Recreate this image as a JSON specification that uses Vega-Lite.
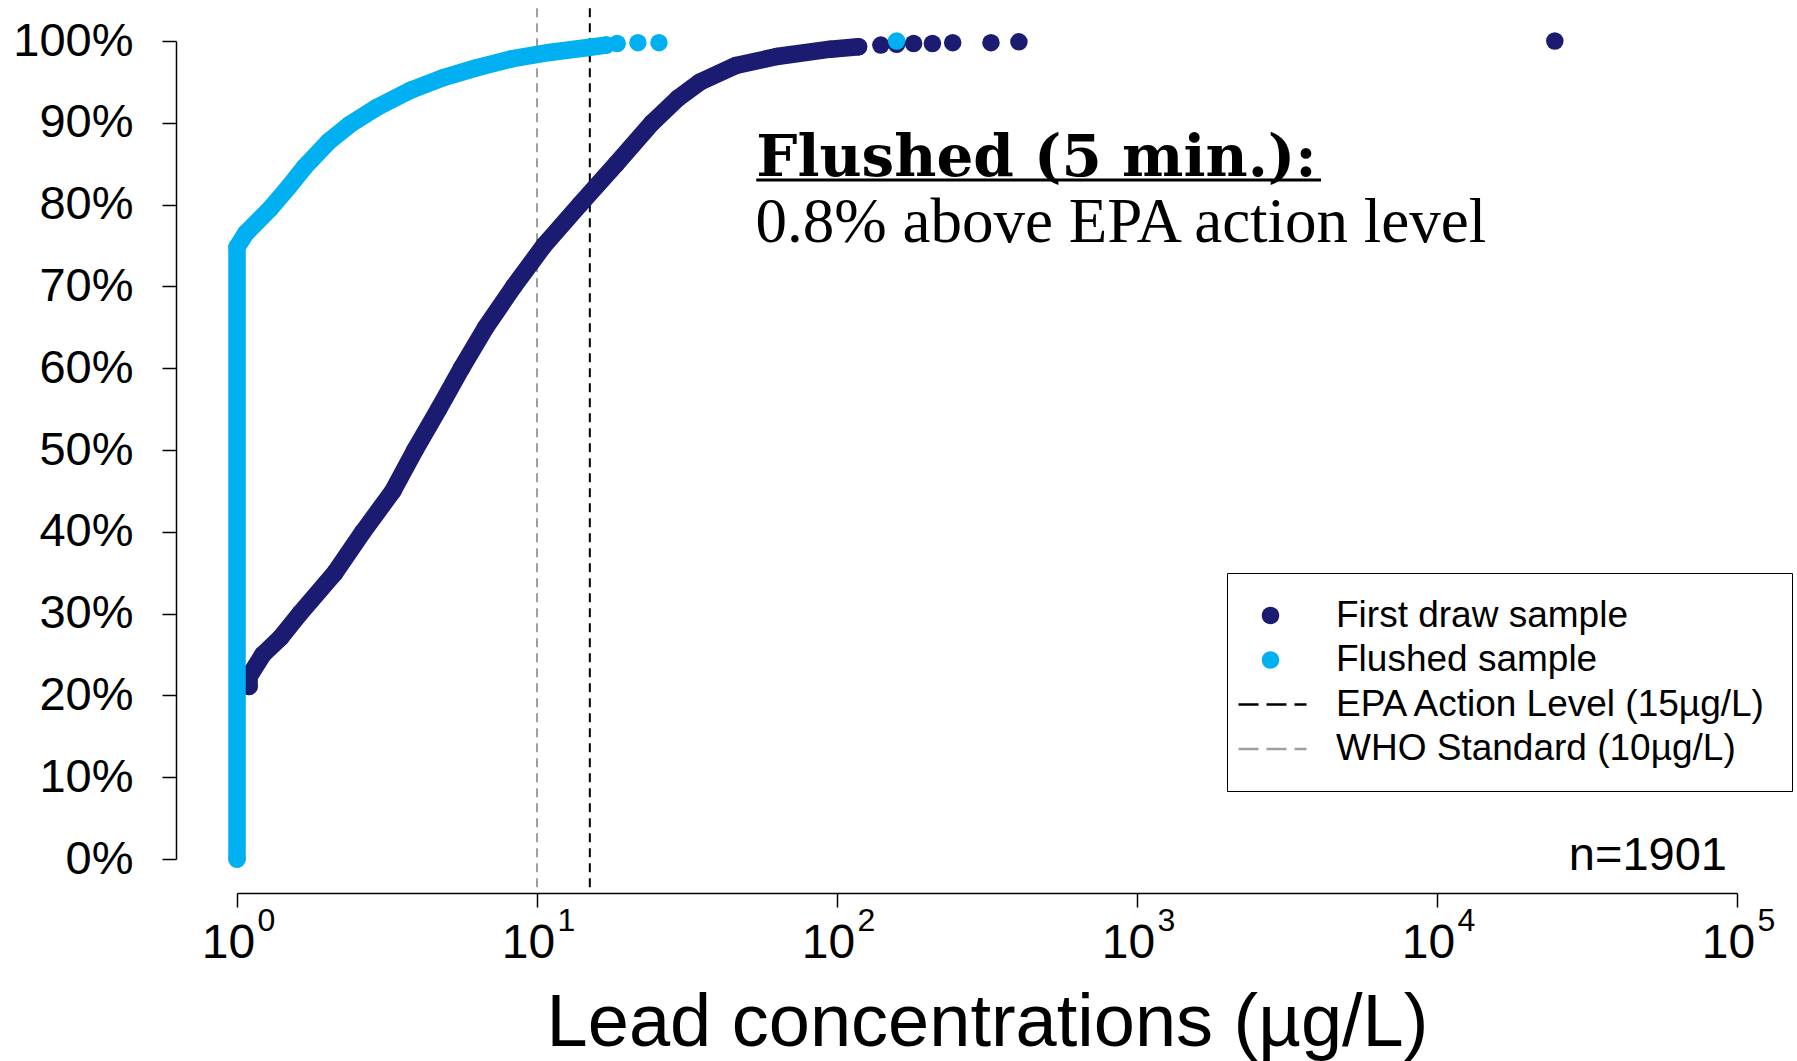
{
  "$schema": "https://vega.github.io/schema/vega-lite/v6.json",
  "width": 1500,
  "height": 818,
  "autosize": {"type": "none"},
  "padding": {"left": 237, "top": 41, "right": 60, "bottom": 202},
  "background": "white",
  "config": {"view": {"stroke": null}, "font": "Liberation Sans", "axis": {"grid": false}},
  "datasets": {
    "samples": [
      {"series": "First draw sample", "part": "curve", "lead": 1.097, "pct": 0.211},
      {"series": "First draw sample", "part": "curve", "lead": 1.097, "pct": 0.223},
      {"series": "First draw sample", "part": "curve", "lead": 1.22, "pct": 0.25},
      {"series": "First draw sample", "part": "curve", "lead": 1.4, "pct": 0.271},
      {"series": "First draw sample", "part": "curve", "lead": 1.62, "pct": 0.3},
      {"series": "First draw sample", "part": "curve", "lead": 2.12, "pct": 0.35},
      {"series": "First draw sample", "part": "curve", "lead": 2.63, "pct": 0.4},
      {"series": "First draw sample", "part": "curve", "lead": 3.31, "pct": 0.45},
      {"series": "First draw sample", "part": "curve", "lead": 3.92, "pct": 0.5},
      {"series": "First draw sample", "part": "curve", "lead": 4.7, "pct": 0.55},
      {"series": "First draw sample", "part": "curve", "lead": 5.6, "pct": 0.6},
      {"series": "First draw sample", "part": "curve", "lead": 6.75, "pct": 0.65},
      {"series": "First draw sample", "part": "curve", "lead": 8.37, "pct": 0.7},
      {"series": "First draw sample", "part": "curve", "lead": 10.55, "pct": 0.75},
      {"series": "First draw sample", "part": "curve", "lead": 13.9, "pct": 0.8},
      {"series": "First draw sample", "part": "curve", "lead": 18.4, "pct": 0.85},
      {"series": "First draw sample", "part": "curve", "lead": 24.2, "pct": 0.9},
      {"series": "First draw sample", "part": "curve", "lead": 29.5, "pct": 0.93},
      {"series": "First draw sample", "part": "curve", "lead": 35, "pct": 0.95},
      {"series": "First draw sample", "part": "curve", "lead": 46, "pct": 0.97},
      {"series": "First draw sample", "part": "curve", "lead": 63, "pct": 0.981},
      {"series": "First draw sample", "part": "curve", "lead": 95, "pct": 0.99},
      {"series": "First draw sample", "part": "curve", "lead": 118, "pct": 0.993},
      {"series": "First draw sample", "part": "outlier", "lead": 140, "pct": 0.995},
      {"series": "First draw sample", "part": "outlier", "lead": 158, "pct": 0.996},
      {"series": "First draw sample", "part": "outlier", "lead": 180, "pct": 0.997},
      {"series": "First draw sample", "part": "outlier", "lead": 208, "pct": 0.997},
      {"series": "First draw sample", "part": "outlier", "lead": 243, "pct": 0.998},
      {"series": "First draw sample", "part": "outlier", "lead": 326, "pct": 0.998},
      {"series": "First draw sample", "part": "outlier", "lead": 404, "pct": 0.999},
      {"series": "First draw sample", "part": "outlier", "lead": 24700, "pct": 1.0},
      {"series": "Flushed sample", "part": "curve", "lead": 1, "pct": 0.0},
      {"series": "Flushed sample", "part": "curve", "lead": 1, "pct": 0.748},
      {"series": "Flushed sample", "part": "curve", "lead": 1.07, "pct": 0.765},
      {"series": "Flushed sample", "part": "curve", "lead": 1.29, "pct": 0.795},
      {"series": "Flushed sample", "part": "curve", "lead": 1.49, "pct": 0.822},
      {"series": "Flushed sample", "part": "curve", "lead": 1.68, "pct": 0.846},
      {"series": "Flushed sample", "part": "curve", "lead": 2.02, "pct": 0.877},
      {"series": "Flushed sample", "part": "curve", "lead": 2.38, "pct": 0.898},
      {"series": "Flushed sample", "part": "curve", "lead": 2.9, "pct": 0.918},
      {"series": "Flushed sample", "part": "curve", "lead": 3.8, "pct": 0.94},
      {"series": "Flushed sample", "part": "curve", "lead": 4.85, "pct": 0.955},
      {"series": "Flushed sample", "part": "curve", "lead": 6.25, "pct": 0.967},
      {"series": "Flushed sample", "part": "curve", "lead": 8.2, "pct": 0.978},
      {"series": "Flushed sample", "part": "curve", "lead": 11.0, "pct": 0.986},
      {"series": "Flushed sample", "part": "curve", "lead": 14.8, "pct": 0.992},
      {"series": "Flushed sample", "part": "curve", "lead": 17, "pct": 0.995},
      {"series": "Flushed sample", "part": "outlier", "lead": 18.5, "pct": 0.997},
      {"series": "Flushed sample", "part": "outlier", "lead": 21.7, "pct": 0.998},
      {"series": "Flushed sample", "part": "outlier", "lead": 25.5, "pct": 0.998},
      {"series": "Flushed sample", "part": "outlier", "lead": 158, "pct": 1.0}
    ],
    "limits": [
      {"level": "WHO Standard (10µg/L)", "lead": 10},
      {"level": "EPA Action Level (15µg/L)", "lead": 15}
    ]
  },
  "resolve": {"axis": {"x": "independent"}},
  "layer": [
    {
      "data": {"name": "limits"},
      "mark": {"type": "rule", "strokeDash": [9, 6], "strokeWidth": 2},
      "encoding": {
        "x": {"field": "lead", "type": "quantitative", "scale": {"type": "log", "domain": [1, 100000]}, "axis": null, "title": null},
        "y": {"datum": 1.04, "type": "quantitative", "scale": {"domain": [0, 1]}, "title": null},
        "y2": {"datum": -0.042},
        "stroke": {"field": "level", "type": "nominal", "scale": {"domain": ["WHO Standard (10µg/L)", "EPA Action Level (15µg/L)"], "range": ["#a0a0a0", "#000000"]}, "legend": null}
      }
    },
    {
      "data": {"name": "samples"},
      "transform": [{"filter": "datum.series === 'First draw sample' && datum.part === 'curve'"}],
      "mark": {"type": "line", "strokeWidth": 17.5, "strokeCap": "round", "strokeJoin": "round", "color": "#1b1b72"},
      "encoding": {
        "x": {"field": "lead", "type": "quantitative", "scale": {"type": "log", "domain": [1, 100000]}, "axis": null, "title": null},
        "y": {"field": "pct", "type": "quantitative", "scale": {"domain": [0, 1]}, "title": null},
        "order": {"value": null}
      }
    },
    {
      "data": {"name": "samples"},
      "transform": [{"filter": "datum.series === 'First draw sample'"}],
      "mark": {"type": "point", "filled": true, "size": 306, "opacity": 1},
      "encoding": {
        "x": {
          "field": "lead", "type": "quantitative", "scale": {"type": "log", "domain": [1, 100000]}, "title": "Lead concentrations (µg/L)",
          "axis": {
            "orient": "bottom", "offset": 34, "values": [1, 10, 100, 1000, 10000, 100000],
            "labelExpr": "'10'", "labelFontSize": 48, "labelColor": "black", "labelFont": "Liberation Sans",
            "labelBaseline": "alphabetic", "labelAlign": "center", "labelPadding": 50, "labelOffset": -9,
            "labelFlush": false, "labelOverlap": false, "labelBound": false,
            "tickSize": 14, "tickColor": "black", "tickWidth": 1.5,
            "domainColor": "black", "domainWidth": 1.5,
            "titleFontSize": 74, "titleFontWeight": "normal", "titleColor": "black", "titleFont": "Liberation Sans",
            "titleBaseline": "alphabetic", "titleAlign": "center", "titleX": 750, "titleY": 152
          }
        },
        "y": {
          "field": "pct", "type": "quantitative", "scale": {"domain": [0, 1]}, "title": null,
          "axis": {
            "values": [0, 0.1, 0.2, 0.3, 0.4, 0.5, 0.6, 0.7, 0.8, 0.9, 1.0], "format": ".0%",
            "offset": 61, "labelFontSize": 47, "labelColor": "black", "labelFont": "Liberation Sans",
            "labelPadding": 29, "tickSize": 14, "tickColor": "black", "tickWidth": 1.5,
            "domainColor": "black", "domainWidth": 1.5, "labelOverlap": false
          }
        },
        "color": {
          "field": "series", "type": "nominal",
          "scale": {"domain": ["First draw sample", "Flushed sample", "EPA Action Level (15µg/L)", "WHO Standard (10µg/L)"], "range": ["#1b1b72", "#00b0f0", "#000000", "#a0a0a0"]},
          "legend": {
            "title": null, "orient": "none", "legendX": 990, "legendY": 532,
            "padding": 24, "strokeColor": "black", "fillColor": "white",
            "labelFont": "Liberation Sans", "labelFontSize": 37, "labelColor": "black", "labelLimit": 0,
            "symbolSize": 306, "labelOffset": 48, "rowPadding": 6.5
          }
        }
      }
    },
    {
      "data": {"name": "samples"},
      "transform": [{"filter": "false"}],
      "mark": {"type": "point", "filled": true},
      "encoding": {
        "x": {"field": "lead", "type": "quantitative", "scale": {"type": "log", "domain": [1, 100000]}, "axis": null, "title": null},
        "y": {"field": "pct", "type": "quantitative", "scale": {"domain": [0, 1]}, "title": null},
        "shape": {
          "field": "series", "type": "nominal",
          "scale": {
            "domain": ["First draw sample", "Flushed sample", "EPA Action Level (15µg/L)", "WHO Standard (10µg/L)"],
            "range": [
              "M-0.886,0A1,1 0 1,0 1.114,0A1,1 0 1,0 -0.886,0Z",
              "M-0.886,0A1,1 0 1,0 1.114,0A1,1 0 1,0 -0.886,0Z",
              "M-3.543,-0.143H-1.257V0.143H-3.543Z M-0.343,-0.143H1.943V0.143H-0.343Z M2.857,-0.143H4.229V0.143H2.857Z",
              "M-3.543,-0.143H-1.257V0.143H-3.543Z M-0.343,-0.143H1.943V0.143H-0.343Z M2.857,-0.143H4.229V0.143H2.857Z"
            ]
          },
          "legend": {
            "title": null, "orient": "none", "legendX": 990, "legendY": 532,
            "padding": 24, "strokeColor": "black", "fillColor": "white",
            "labelFont": "Liberation Sans", "labelFontSize": 37, "labelColor": "black", "labelLimit": 0,
            "symbolSize": 306, "labelOffset": 48, "rowPadding": 6.5
          }
        }
      }
    },
    {
      "data": {"name": "samples"},
      "transform": [{"filter": "datum.series === 'Flushed sample' && datum.part === 'curve'"}],
      "mark": {"type": "line", "strokeWidth": 17.5, "strokeCap": "round", "strokeJoin": "round", "color": "#00b0f0"},
      "encoding": {
        "x": {"field": "lead", "type": "quantitative", "scale": {"type": "log", "domain": [1, 100000]}, "axis": null, "title": null},
        "y": {"field": "pct", "type": "quantitative", "scale": {"domain": [0, 1]}, "title": null},
        "order": {"value": null}
      }
    },
    {
      "data": {"name": "samples"},
      "transform": [{"filter": "datum.series === 'Flushed sample'"}],
      "mark": {"type": "point", "filled": true, "size": 306, "opacity": 1},
      "encoding": {
        "x": {
          "field": "lead", "type": "quantitative", "scale": {"type": "log", "domain": [1, 100000]}, "title": null,
          "axis": {
            "orient": "bottom", "offset": 34, "values": [1, 10, 100, 1000, 10000, 100000],
            "labelExpr": "'' + round(log(datum.value) / LN10)", "labelFontSize": 32, "labelColor": "black", "labelFont": "Liberation Sans",
            "labelBaseline": "alphabetic", "labelAlign": "center", "labelPadding": 23, "labelOffset": 29,
            "labelFlush": false, "labelOverlap": false, "labelBound": false,
            "tickSize": 14, "tickColor": "transparent", "domain": false
          }
        },
        "y": {"field": "pct", "type": "quantitative", "scale": {"domain": [0, 1]}, "title": null},
        "color": {
          "field": "series", "type": "nominal",
          "scale": {"domain": ["First draw sample", "Flushed sample", "EPA Action Level (15µg/L)", "WHO Standard (10µg/L)"], "range": ["#1b1b72", "#00b0f0", "#000000", "#a0a0a0"]},
          "legend": null
        }
      }
    },
    {
      "data": {"values": [{"lead": 53.8, "lead2": 4106, "pct": 0.8301}]},
      "mark": {"type": "rule", "strokeWidth": 3, "color": "black"},
      "encoding": {
        "x": {"field": "lead", "type": "quantitative", "axis": null, "title": null},
        "x2": {"field": "lead2"},
        "y": {"field": "pct", "type": "quantitative", "title": null}
      }
    },
    {
      "data": {"values": [{"lead": 53.8, "pct": 0.835, "note": "Flushed (5 min.):"}]},
      "mark": {"type": "text", "font": "DejaVu Serif", "fontWeight": "bold", "fontSize": 58, "align": "left", "baseline": "alphabetic", "color": "black"},
      "encoding": {
        "x": {"field": "lead", "type": "quantitative", "axis": null, "title": null},
        "y": {"field": "pct", "type": "quantitative", "title": null},
        "text": {"field": "note"}
      }
    },
    {
      "data": {"values": [{"lead": 53.5, "pct": 0.7543, "note": "0.8% above EPA action level"}]},
      "mark": {"type": "text", "font": "Liberation Serif", "fontSize": 63, "align": "left", "baseline": "alphabetic", "color": "black"},
      "encoding": {
        "x": {"field": "lead", "type": "quantitative", "axis": null, "title": null},
        "y": {"field": "pct", "type": "quantitative", "title": null},
        "text": {"field": "note"}
      }
    },
    {
      "data": {"values": [{"lead": 92600, "pct": -0.0134, "note": "n=1901"}]},
      "mark": {"type": "text", "font": "Liberation Sans", "fontSize": 47, "align": "right", "baseline": "alphabetic", "color": "black"},
      "encoding": {
        "x": {"field": "lead", "type": "quantitative", "axis": null, "title": null},
        "y": {"field": "pct", "type": "quantitative", "title": null},
        "text": {"field": "note"}
      }
    }
  ]
}
